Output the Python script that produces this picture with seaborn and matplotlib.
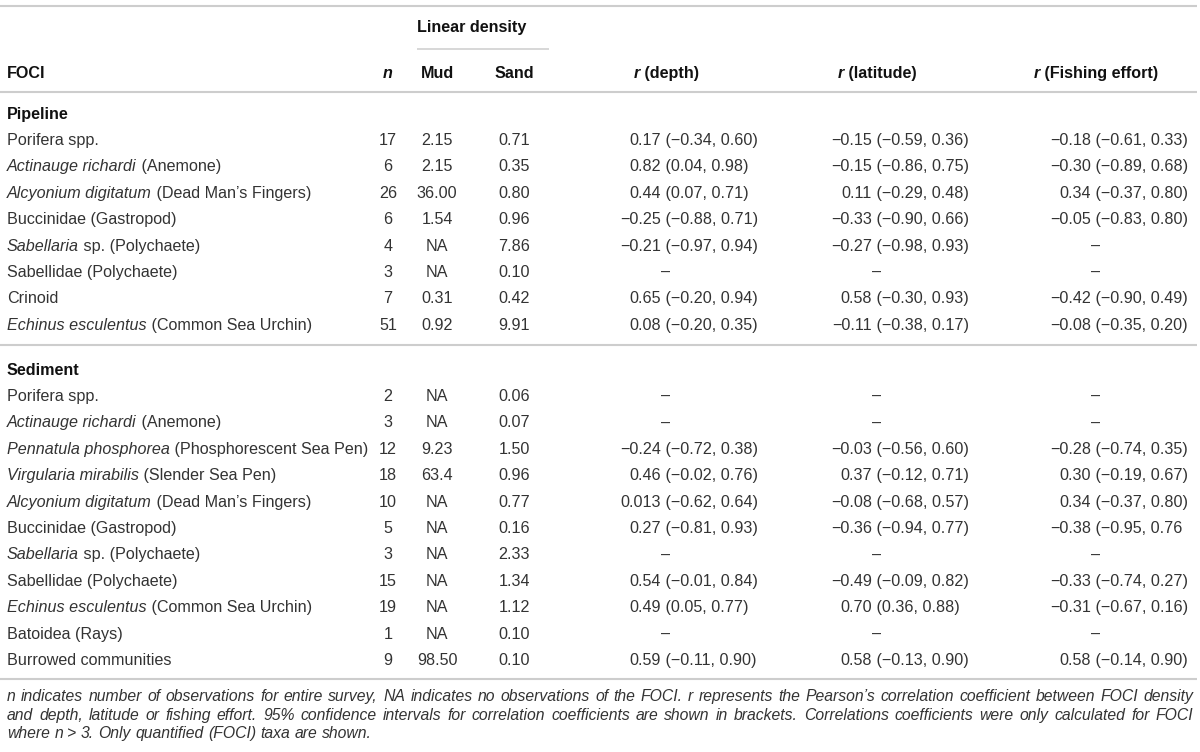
import numpy as np
import pandas as pd
import seaborn as sns
import matplotlib.pyplot as plt

sns.set_theme(style="white")
plt.rcParams['font.family'] = ['Liberation Sans', 'DejaVu Sans']

# ---------------------------------------------------------------
# table content (italic parts of taxa marked with *...*)
# ---------------------------------------------------------------
groups = ["Pipeline", "Sediment"]

pipe_taxa = ["Porifera spp.",
             "*Actinauge richardi* (Anemone)",
             "*Alcyonium digitatum* (Dead Man\u2019s Fingers)",
             "Buccinidae (Gastropod)",
             "*Sabellaria* sp. (Polychaete)",
             "Sabellidae (Polychaete)",
             "Crinoid",
             "*Echinus esculentus* (Common Sea Urchin)"]
pipe_n = [17, 6, 26, 6, 4, 3, 7, 51]
pipe_mud = ["2.15", "2.15", "36.00", "1.54", "NA", "NA", "0.31", "0.92"]
pipe_sand = ["0.71", "0.35", "0.80", "0.96", "7.86", "0.10", "0.42", "9.91"]
pipe_depth = ["0.17 (\u22120.34, 0.60)", "0.82 (0.04, 0.98)", "0.44 (0.07, 0.71)",
              "\u22120.25 (\u22120.88, 0.71)", "\u22120.21 (\u22120.97, 0.94)", "\u2013",
              "0.65 (\u22120.20, 0.94)", "0.08 (\u22120.20, 0.35)"]
pipe_lat = ["\u22120.15 (\u22120.59, 0.36)", "\u22120.15 (\u22120.86, 0.75)", "0.11 (\u22120.29, 0.48)",
            "\u22120.33 (\u22120.90, 0.66)", "\u22120.27 (\u22120.98, 0.93)", "\u2013",
            "0.58 (\u22120.30, 0.93)", "\u22120.11 (\u22120.38, 0.17)"]
pipe_fish = ["\u22120.18 (\u22120.61, 0.33)", "\u22120.30 (\u22120.89, 0.68)", "0.34 (\u22120.37, 0.80)",
             "\u22120.05 (\u22120.83, 0.80)", "\u2013", "\u2013",
             "\u22120.42 (\u22120.90, 0.49)", "\u22120.08 (\u22120.35, 0.20)"]

sed_taxa = ["Porifera spp.",
            "*Actinauge richardi* (Anemone)",
            "*Pennatula phosphorea* (Phosphorescent Sea Pen)",
            "*Virgularia mirabilis* (Slender Sea Pen)",
            "*Alcyonium digitatum* (Dead Man\u2019s Fingers)",
            "Buccinidae (Gastropod)",
            "*Sabellaria* sp. (Polychaete)",
            "Sabellidae (Polychaete)",
            "*Echinus esculentus* (Common Sea Urchin)",
            "Batoidea (Rays)",
            "Burrowed communities"]
sed_n = [2, 3, 12, 18, 10, 5, 3, 15, 19, 1, 9]
sed_mud = ["NA", "NA", "9.23", "63.4", "NA", "NA", "NA", "NA", "NA", "NA", "98.50"]
sed_sand = ["0.06", "0.07", "1.50", "0.96", "0.77", "0.16", "2.33", "1.34", "1.12", "0.10", "0.10"]
sed_depth = ["\u2013", "\u2013", "\u22120.24 (\u22120.72, 0.38)", "0.46 (\u22120.02, 0.76)",
             "0.013 (\u22120.62, 0.64)", "0.27 (\u22120.81, 0.93)", "\u2013",
             "0.54 (\u22120.01, 0.84)", "0.49 (0.05, 0.77)", "\u2013", "0.59 (\u22120.11, 0.90)"]
sed_lat = ["\u2013", "\u2013", "\u22120.03 (\u22120.56, 0.60)", "0.37 (\u22120.12, 0.71)",
           "\u22120.08 (\u22120.68, 0.57)", "\u22120.36 (\u22120.94, 0.77)", "\u2013",
           "\u22120.49 (\u22120.09, 0.82)", "0.70 (0.36, 0.88)", "\u2013", "0.58 (\u22120.13, 0.90)"]
sed_fish = ["\u2013", "\u2013", "\u22120.28 (\u22120.74, 0.35)", "0.30 (\u22120.19, 0.67)",
            "0.34 (\u22120.37, 0.80)", "\u22120.38 (\u22120.95, 0.76", "\u2013",
            "\u22120.33 (\u22120.74, 0.27)", "\u22120.31 (\u22120.67, 0.16)", "\u2013",
            "0.58 (\u22120.14, 0.90)"]

r_headers = ["depth", "latitude", "Fishing effort"]

footnote = [
    "n indicates number of observations for entire survey, NA indicates no observations of the FOCI. "
    "r represents the Pearson\u2019s correlation coefficient between FOCI density",
    "and depth, latitude or fishing effort. 95% confidence intervals for correlation coefficients "
    "are shown in brackets. Correlations coefficients were only calculated for FOCI",
    "where n > 3. Only quantified (FOCI) taxa are shown.",
]

cols = ["taxon", "n", "mud", "sand", "depth", "lat", "fish"]
tables = {
    "Pipeline": pd.DataFrame(dict(zip(cols, [pipe_taxa, pipe_n, pipe_mud, pipe_sand,
                                              pipe_depth, pipe_lat, pipe_fish]))),
    "Sediment": pd.DataFrame(dict(zip(cols, [sed_taxa, sed_n, sed_mud, sed_sand,
                                              sed_depth, sed_lat, sed_fish]))),
}

# ---------------------------------------------------------------
# layout (pixel units, y downwards)
# ---------------------------------------------------------------
W, H = 1200, 752
FS = 11.6
TXT = "#333333"
BOLD = "#111111"
RULE = "#cdcdcd"
ROW = 26.4
BASE = 6          # centre -> baseline offset

x_lab = 7
x_n, x_mud, x_sand = 388, 437, 514
x_r = [666, 877, 1096]     # header centres of the r columns
r_shift = -5               # end of the r value relative to header centre

fig = plt.figure(figsize=(W / 100, H / 100), dpi=100)
ax = fig.add_axes([0, 0, 1, 1])
ax.set_xlim(0, W)
ax.set_ylim(H, 0)
ax.axis("off")
rend = fig.canvas.get_renderer()


def wpx(t):
    return t.get_window_extent(renderer=rend).width


def runs(x, y, parts, ha="left", size=FS):
    texts = []
    for txt, st in parts:
        t = ax.text(0, y + BASE, txt, fontsize=size, va="baseline", ha="left",
                    color=BOLD if "b" in st else TXT,
                    fontstyle="italic" if "i" in st else "normal",
                    fontweight="bold" if "b" in st else "normal")
        texts.append(t)
    ws = [wpx(t) for t in texts]
    x0 = {"left": x, "center": x - sum(ws) / 2, "right": x - sum(ws)}[ha]
    for t, w in zip(texts, ws):
        t.set_x(x0)
        x0 += w


def parse_taxon(s):
    parts = []
    for i, seg in enumerate(s.split("*")):
        if seg:
            parts.append((seg, "i" if i % 2 else ""))
    return parts


def hrule(y, x0=0, x1=1197, lw=1.5):
    ax.plot([x0, x1], [y, y], color=RULE, lw=lw, solid_capstyle="butt")


# header
hrule(6)
runs(417, 26, [("Linear density", "b")])
hrule(49, 417, 549, lw=1.1)
hy = 72
runs(x_lab, hy, [("FOCI", "b")])
runs(x_n, hy, [("n", "bi")], ha="center")
runs(x_mud, hy, [("Mud", "b")], ha="center")
runs(x_sand, hy, [("Sand", "b")], ha="center")
for xc, lab in zip(x_r, r_headers):
    runs(xc, hy, [("r", "bi"), (" (" + lab + ")", "b")], ha="center")
hrule(92)

# body
group_y = {"Pipeline": 113, "Sediment": 369}
for g in groups:
    df = tables[g]
    runs(x_lab, group_y[g], [(g, "b")])
    for i, row in df.iterrows():
        y = group_y[g] + 26 + i * ROW
        runs(x_lab, y, parse_taxon(row["taxon"]))
        runs(x_n, y, [(str(row["n"]), "")], ha="center")
        runs(x_mud, y, [(row["mud"], "")], ha="center")
        runs(x_sand, y, [(row["sand"], "")], ha="center")
        for xc, c in zip(x_r, ["depth", "lat", "fish"]):
            val = row[c]
            if val == "\u2013":
                runs(xc, y, [(val, "")], ha="center")
            else:
                r, ci = val.split(" ", 1)
                runs(xc + r_shift, y, [(r, "")], ha="right")
                runs(xc + r_shift, y, [(" " + ci, "")])
    if g == "Pipeline":
        hrule(345)
hrule(679)

# footnote, first two lines justified
note_y = [696, 715, 733]
probe = ax.text(0, 0, footnote[0], fontsize=FS, fontstyle="italic")
fs_note = FS * 1172 / wpx(probe)
probe.remove()
for k, (line, y) in enumerate(zip(footnote, note_y)):
    words = line.split(" ")
    texts = [ax.text(0, y + 5, w, fontsize=fs_note, fontstyle="italic", color=TXT,
                     va="baseline", ha="left") for w in words]
    ws = [wpx(t) for t in texts]
    if k < 2:
        gap = (1193 - x_lab - sum(ws)) / (len(words) - 1)
    else:
        sp = ax.text(0, 0, "a a", fontsize=fs_note, fontstyle="italic")
        sp2 = ax.text(0, 0, "aa", fontsize=fs_note, fontstyle="italic")
        gap = wpx(sp) - wpx(sp2)
        sp.remove()
        sp2.remove()
    x = x_lab
    for t, w in zip(texts, ws):
        t.set_x(x)
        x += w + gap

fig.savefig("out.png", dpi=100)
